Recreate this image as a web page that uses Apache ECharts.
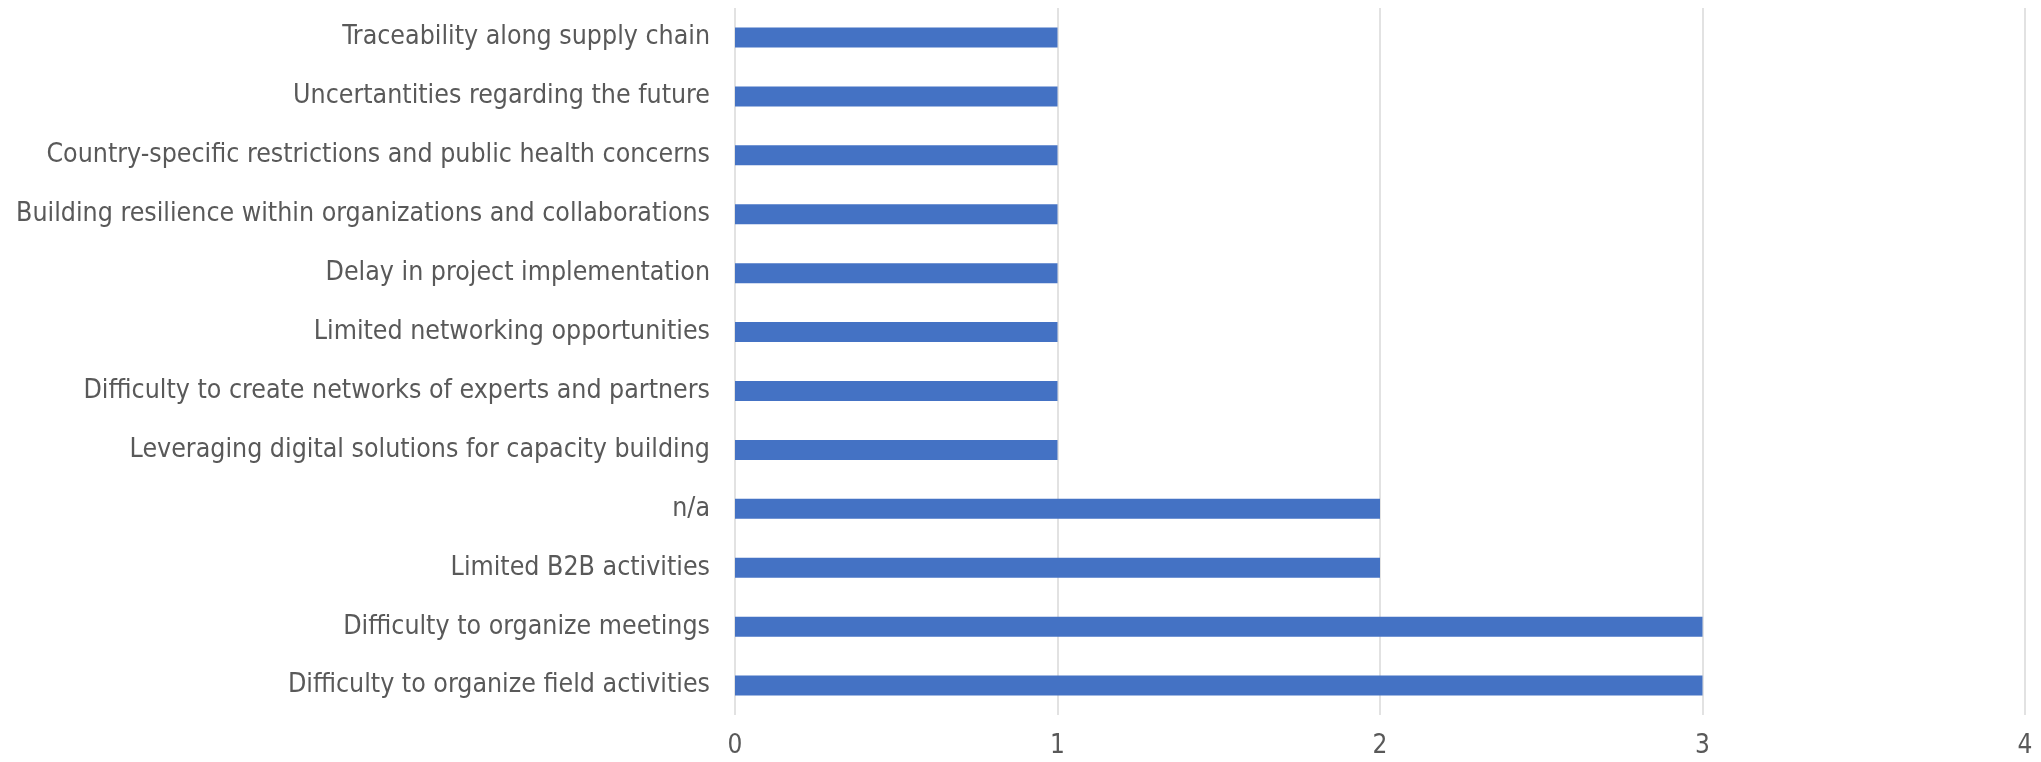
<!DOCTYPE html>
<html>
<head>
<meta charset="utf-8">
<script src="https://cdn.jsdelivr.net/npm/echarts@6/dist/echarts.min.js"></script>
<style>
    html, body { margin: 0; padding: 0; background: #fff; }
    #chart { width: 2041px; height: 762px; }
</style>
</head>
<body>
<div id="chart"></div>
<script>
// categories from bottom to top (category axis starts at the bottom)
var categories = [
    'Difficulty to organize field activities',
    'Difficulty to organize meetings',
    'Limited B2B activities',
    'n/a',
    'Leveraging digital solutions for capacity building',
    'Difficulty to create networks of experts and partners',
    'Limited networking opportunities',
    'Delay in project implementation',
    'Building resilience within organizations and collaborations',
    'Country-specific restrictions and public health concerns',
    'Uncertantities regarding the future',
    'Traceability along supply chain'
];
var counts = [3, 3, 2, 2, 1, 1, 1, 1, 1, 1, 1, 1];
var xTicks = [0, 1, 2, 3, 4];

var labelFont = '"Liberation Sans Narrow", "DejaVu Sans Condensed", sans-serif';

var mychart = echarts.init(document.getElementById('chart'));
var option = {
    animation: false,
    grid: {
        left: 735,
        right: 16,
        top: 8,
        bottom: 47,
        containLabel: false
    },
    xAxis: {
        type: 'value',
        min: xTicks[0],
        max: xTicks[xTicks.length - 1],
        interval: 1,
        axisLine: {show: false},
        axisTick: {show: false},
        axisLabel: {
            color: '#595959',
            fontFamily: labelFont,
            fontSize: 26,
            margin: 18
        },
        splitLine: {lineStyle: {color: '#d9d9d9', width: 1.5}}
    },
    yAxis: {
        type: 'category',
        data: categories,
        axisLine: {show: false},
        axisTick: {show: false},
        axisLabel: {
            color: '#595959',
            fontFamily: labelFont,
            fontSize: 26.5,
            margin: 25
        }
    },
    series: [{
        type: 'bar',
        data: counts,
        barWidth: 20,
        itemStyle: {color: '#4472c4'}
    }]
};
mychart.setOption(option);
</script>
</body>
</html>
